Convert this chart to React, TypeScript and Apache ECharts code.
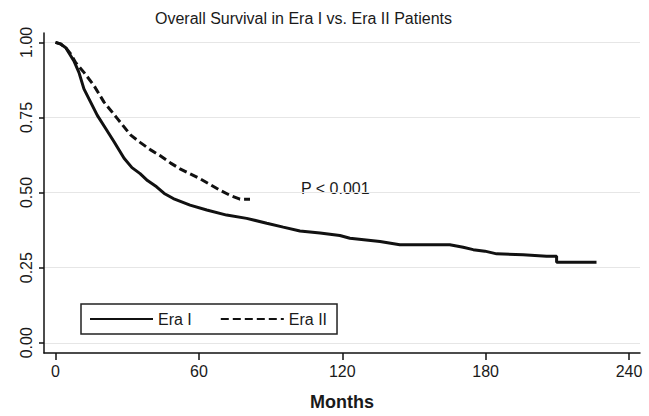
import React, { useEffect, useRef } from "react";
import * as echarts from "echarts";

const TITLE = "Overall Survival in Era I vs. Era II Patients";
const X_NAME = "Months";
const P_TEXT = "P < 0.001";
const X_TICKS = [0, 60, 120, 180, 240];
const Y_TICKS = [0, 0.25, 0.5, 0.75, 1.0];
const SERIES_NAMES = ["Era I", "Era II"];

const ERA1_MONTHS = [0, 2, 4.3, 7.7, 9.8, 11.9, 14.7, 17.5, 21, 24.5, 28.7, 32, 35.4, 38.5, 42.3, 45.5, 49.3, 56.3, 63.3, 71.6, 80, 88.4, 95.3, 102.3, 110.7, 119, 123.2, 135.8, 144.1, 165, 170.6, 174.8, 179.7, 184.6, 195.7, 205.5, 209.7, 209.7, 226.4];
const ERA1_SURV = [1.0, 0.995, 0.982, 0.938, 0.9, 0.845, 0.801, 0.757, 0.713, 0.669, 0.614, 0.583, 0.563, 0.54, 0.519, 0.497, 0.48, 0.458, 0.442, 0.425, 0.414, 0.398, 0.385, 0.372, 0.365, 0.357, 0.348, 0.337, 0.326, 0.326, 0.318, 0.31, 0.305, 0.296, 0.293, 0.288, 0.288, 0.268, 0.268];

const ERA2_MONTHS = [0, 2, 4.3, 6.5, 8.4, 11.9, 16.1, 20.3, 25.9, 31.5, 35.4, 39.8, 43.7, 48.2, 52.1, 60.5, 68.8, 73, 77.2, 81.4];
const ERA2_SURV = [1.0, 0.995, 0.982, 0.96, 0.933, 0.9, 0.856, 0.801, 0.746, 0.691, 0.667, 0.642, 0.623, 0.598, 0.579, 0.546, 0.508, 0.491, 0.478, 0.478];

const FONT = "Liberation Sans, Arial, sans-serif";

export default function App() {
  const ref = useRef<HTMLDivElement>(null);
  useEffect(() => {
    const chart = echarts.init(ref.current!, null, { renderer: "svg" });
    const era1 = ERA1_MONTHS.map((m, i) => [m, ERA1_SURV[i]]);
    const era2 = ERA2_MONTHS.map((m, i) => [m, ERA2_SURV[i]]);
    chart.setOption({
      animation: false,
      backgroundColor: "#fff",
      textStyle: { fontFamily: FONT },
      title: {
        text: TITLE,
        left: 155,
        top: 10,
        padding: 0,
        textStyle: { fontFamily: FONT, fontSize: 16, fontWeight: "normal", color: "#1a1a1a" },
      },
      grid: { left: 44, right: 9, top: 33, bottom: 60, containLabel: false },
      xAxis: {
        type: "value",
        min: -4.81,
        max: 244.6,
        name: X_NAME,
        nameLocation: "middle",
        nameGap: 40,
        nameTextStyle: { fontFamily: FONT, fontSize: 18, fontWeight: "bold", color: "#1a1a1a" },
        axisLine: { show: true, onZero: false, lineStyle: { color: "#111", width: 1.5 } },
        axisTick: { show: true, length: 7, customValues: X_TICKS, lineStyle: { color: "#111", width: 1.5 } },
        axisLabel: { customValues: X_TICKS, fontFamily: FONT, fontSize: 16, color: "#1a1a1a", margin: 10 },
        splitLine: { show: false },
      },
      yAxis: {
        type: "value",
        min: -0.034,
        max: 1.031,
        axisLine: { show: true, onZero: false, lineStyle: { color: "#111", width: 1.5 } },
        axisTick: { show: true, length: 5, customValues: Y_TICKS, lineStyle: { color: "#111", width: 1.5 } },
        axisLabel: {
          customValues: Y_TICKS,
          rotate: 90,
          fontFamily: FONT,
          fontSize: 16,
          color: "#1a1a1a",
          margin: 10,
          formatter: (v: number) => v.toFixed(2),
        },
        splitLine: { show: true, lineStyle: { color: "#e6e6e6", width: 1 } },
      },
      legend: {
        data: SERIES_NAMES,
        left: 81,
        top: 304,
        itemWidth: 63,
        itemHeight: 14,
        itemGap: 28,
        padding: [7, 10, 7, 8],
        borderColor: "#222",
        borderWidth: 1.5,
        backgroundColor: "#fff",
        itemStyle: { opacity: 0, borderWidth: 0 },
        textStyle: { fontFamily: FONT, fontSize: 16, color: "#1a1a1a" },
      },
      graphic: [
        {
          type: "text",
          left: 301,
          top: 180,
          style: { text: P_TEXT, font: `16px ${FONT}`, fill: "#1a1a1a" },
        },
      ],
      series: [
        {
          name: SERIES_NAMES[0],
          type: "line",
          data: era1,
          symbol: "none",
          showSymbol: false,
          lineStyle: { color: "#111", width: 3, type: "solid" },
          itemStyle: { color: "#111" },
          emphasis: { disabled: true },
          z: 3,
        },
        {
          name: SERIES_NAMES[1],
          type: "line",
          data: era2,
          symbol: "none",
          showSymbol: false,
          lineStyle: { color: "#111", width: 3, type: [8, 4] },
          itemStyle: { color: "#111" },
          emphasis: { disabled: true },
          z: 3,
        },
      ],
    });
    return () => chart.dispose();
  }, []);
  return <div ref={ref} style={{ position: "fixed", left: 0, top: 0, width: 649, height: 416 }} />;
}
